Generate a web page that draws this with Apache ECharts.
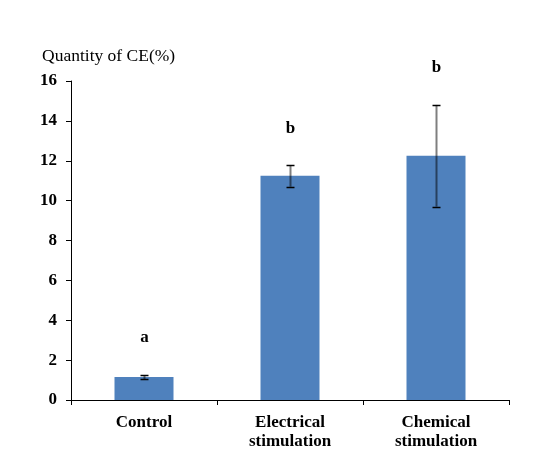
<!DOCTYPE html>
<html>
<head>
<meta charset="utf-8">
<script src="https://cdn.jsdelivr.net/npm/echarts@6/dist/echarts.min.js"></script>
<style>html,body{margin:0;padding:0;background:#fff}#c{width:550px;height:453px}</style>
</head>
<body>
<div id="c"></div>
<script>
var categories = ['Control', 'Electrical\nstimulation', 'Chemical\nstimulation'];
var values = [1.15, 11.25, 12.25];
var errLow = [1.05, 10.7, 9.7];
var errHigh = [1.25, 11.78, 14.8];
var letters = ['a', 'b', 'b'];
var yTicks = [0, 2, 4, 6, 8, 10, 12, 14, 16];

var chart = echarts.init(document.getElementById('c'), null, {renderer: 'canvas'});
var serif = '"Liberation Serif", "Times New Roman", serif';

var errData = categories.map(function (c, i) { return [i, errLow[i], errHigh[i]]; });

chart.setOption({
  animation: false,
  backgroundColor: '#ffffff',
  grid: {left: 71, right: 41, top: 81, bottom: 53, containLabel: false},
  graphic: [{
    type: 'text', left: 42, top: 47,
    style: {text: 'Quantity of CE(%)', font: '17.5px ' + serif, fill: '#000'}
  }],
  xAxis: {
    type: 'category',
    data: categories,
    boundaryGap: true,
    axisLine: {lineStyle: {color: '#000', width: 1}},
    axisTick: {show: true, length: 5, lineStyle: {color: '#000'}, alignWithLabel: false},
    axisLabel: {color: '#000', fontFamily: serif, fontSize: 17, fontWeight: 'bold', margin: 13, lineHeight: 19, interval: 0}
  },
  yAxis: {
    type: 'value',
    min: yTicks[0], max: yTicks[yTicks.length - 1], interval: 2,
    axisLine: {show: true, lineStyle: {color: '#000', width: 1}},
    axisTick: {show: true, length: 5, lineStyle: {color: '#000'}},
    splitLine: {show: false},
    axisLabel: {color: '#000', fontFamily: serif, fontSize: 17, fontWeight: 'bold', margin: 14, padding: [3, 0, 0, 0]}
  },
  series: [{
    type: 'bar',
    data: values,
    barWidth: 59,
    itemStyle: {color: '#4F81BD'},
    z: 2
  }, {
    type: 'custom',
    data: errData,
    z: 5,
    renderItem: function (params, api) {
      var i = api.value(0);
      var lo = api.coord([i, api.value(1)]);
      var hi = api.coord([i, api.value(2)]);
      var x = Math.round(lo[0]) + 0.5;
      var half = 4;
      return {
        type: 'group',
        children: [
          {type: 'line', shape: {x1: x, y1: hi[1], x2: x, y2: lo[1]}, style: {stroke: 'rgba(0,0,0,0.5)', lineWidth: 2}},
          {type: 'line', shape: {x1: x - half, y1: Math.round(hi[1]) + 0.5, x2: x + half, y2: Math.round(hi[1]) + 0.5}, style: {stroke: '#000', lineWidth: 1.5}},
          {type: 'line', shape: {x1: x - half, y1: Math.round(lo[1]) + 0.5, x2: x + half, y2: Math.round(lo[1]) + 0.5}, style: {stroke: '#000', lineWidth: 1.5}},
          {type: 'text', x: x, y: hi[1] - 37, style: {text: letters[params.dataIndex], font: 'bold 17px ' + serif, fill: '#000', align: 'center', verticalAlign: 'middle'}}
        ]
      };
    }
  }]
});
</script>
</body>
</html>
